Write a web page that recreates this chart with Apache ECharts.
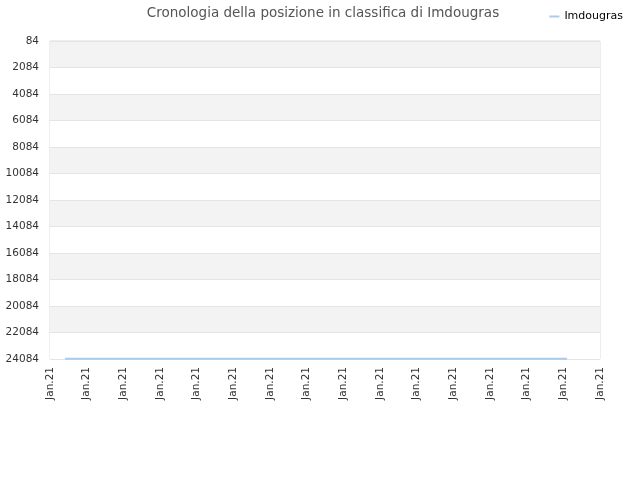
<!DOCTYPE html>
<html><head><meta charset="utf-8">
<script src="https://cdn.jsdelivr.net/npm/echarts@6/dist/echarts.min.js"></script>
<style>html,body{margin:0;padding:0;background:#fff}#c{width:640px;height:480px}</style>
</head><body><div id="c"></div>
<script>
const titleText = 'Cronologia della posizione in classifica di Imdougras';
const seriesName = 'Imdougras';
const tickLabels = ['Jan.21','Jan.21','Jan.21','Jan.21','Jan.21','Jan.21','Jan.21','Jan.21','Jan.21','Jan.21','Jan.21','Jan.21','Jan.21','Jan.21','Jan.21','Jan.21'];
const pointX = [0.41, 14.1];
const pointRank = [24060, 24060];

const chart = echarts.init(document.getElementById('c'));
chart.setOption({
  animation: false,
  title: { text: titleText, left: 318, top: 1, textAlign: 'center',
    textStyle: { fontFamily: 'DejaVu Sans', fontSize: 13.5, fontWeight: 'normal', color: '#555' } },
  legend: { right: 12, top: 6, itemWidth: 10, itemHeight: 2, icon: 'rect',
    textStyle: { fontFamily: 'DejaVu Sans', fontSize: 11, color: '#000' },
    data: [seriesName] },
  grid: { left: 50, right: 40, top: 41, bottom: 121, show: true, borderColor: '#dcdcdc', borderWidth: 1 },
  xAxis: { type: 'value', min: 0, max: tickLabels.length - 1, interval: 1,
    axisLine: { show: false }, axisTick: { show: false }, splitLine: { show: false },
    axisLabel: { rotate: 90, fontFamily: 'DejaVu Sans', fontSize: 10.5, color: '#333', margin: 8,
      formatter: (v) => tickLabels[Math.round(v)] || '' } },
  yAxis: { type: 'value', inverse: true, min: 84, max: 24084, interval: 2000,
    axisLine: { show: false }, axisTick: { show: false },
    splitLine: { lineStyle: { color: '#e4e4e4' } },
    splitArea: { show: true, areaStyle: { color: ['#f3f3f3', '#ffffff'] } },
    axisLabel: { fontFamily: 'DejaVu Sans', fontSize: 10.5, color: '#333', margin: 11,
      formatter: (v) => String(v) } },
  series: [{ name: seriesName, type: 'line', symbol: 'none',
    lineStyle: { color: '#a6cbee', width: 2 }, itemStyle: { color: '#a6cbee' },
    data: pointX.map((x, i) => [x, pointRank[i]]) }]
});
</script></body></html>
